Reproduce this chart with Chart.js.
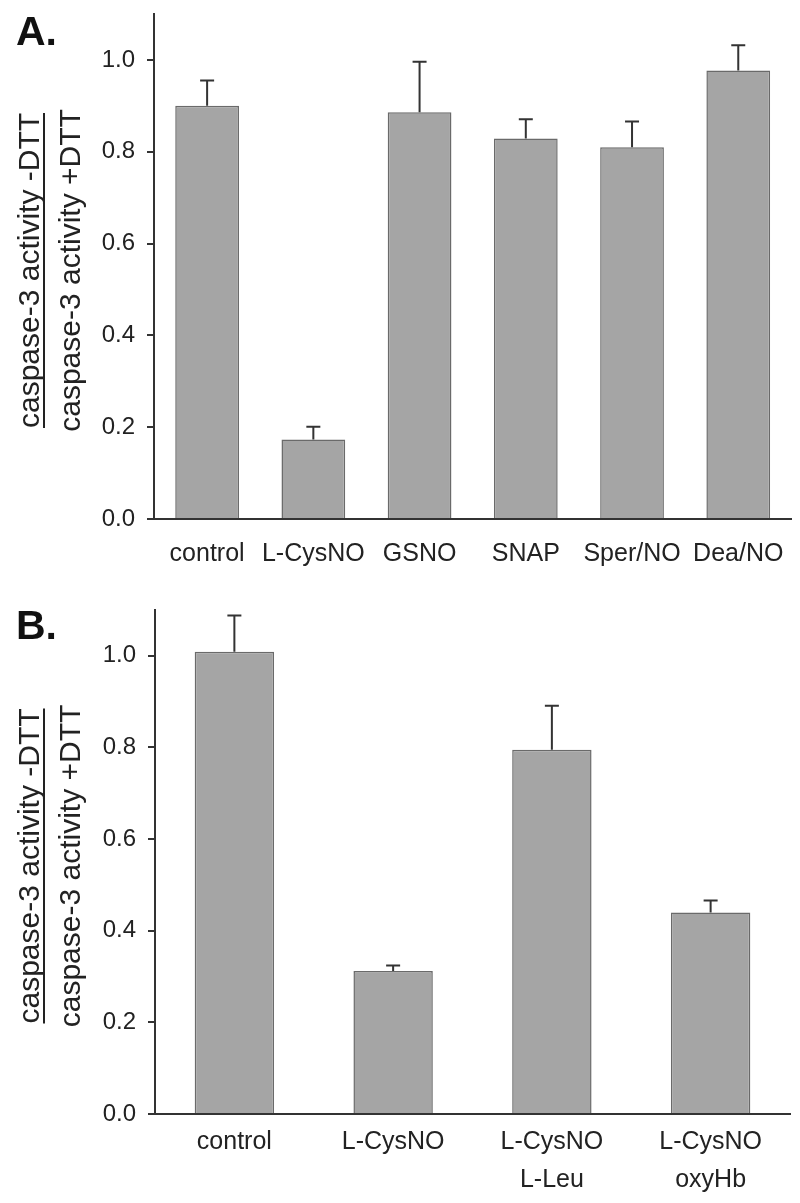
<!DOCTYPE html>
<html>
<head>
<meta charset="utf-8">
<script src="https://cdn.jsdelivr.net/npm/chart.js@4.4.1/dist/chart.umd.min.js"></script>
<style>
  html, body { margin: 0; padding: 0; background: #fff; }
  .panel { position: relative; width: 800px; }
  #wrapA { height: 600px; }
  #wrapB { height: 603px; }
</style>
</head>
<body>
<div class="panel" id="wrapA"><canvas id="chartA"></canvas></div>
<div class="panel" id="wrapB"><canvas id="chartB"></canvas></div>
<script>
// panel A
const labelsA = ["control", "L-CysNO", "GSNO", "SNAP", "Sper/NO", "Dea/NO"];
const valuesA = [0.900, 0.173, 0.886, 0.829, 0.810, 0.977];
const errorsA = [0.055, 0.028, 0.110, 0.042, 0.056, 0.055];

// panel B
const labelsB = ["control", "L-CysNO", ["L-CysNO", "L-Leu"], ["L-CysNO", "oxyHb"]];
const valuesB = [1.009, 0.312, 0.795, 0.440];
const errorsB = [0.079, 0.012, 0.096, 0.026];

const yTicks = [0, 0.2, 0.4, 0.6, 0.8, 1.0];
const yMax = 1.1;
const titleTop = "caspase-3 activity -DTT";
const titleBottom = "caspase-3 activity +DTT";

const FONT = "'Liberation Sans', Arial, Helvetica, sans-serif";
Chart.defaults.font.family = FONT;

// upward-only error bars with a small cap
const errorBars = {
  id: "errorBars",
  afterDatasetsDraw(chart, args, opts) {
    const ctx = chart.ctx, y = chart.scales.y;
    const vals = chart.data.datasets[0].data;
    ctx.save();
    ctx.strokeStyle = "#333";
    ctx.lineWidth = 2;
    chart.getDatasetMeta(0).data.forEach((bar, i) => {
      const top = y.getPixelForValue(vals[i] + opts.errors[i]);
      ctx.beginPath();
      ctx.moveTo(bar.x, bar.y);
      ctx.lineTo(bar.x, top);
      ctx.moveTo(bar.x - 7, top);
      ctx.lineTo(bar.x + 7, top);
      ctx.stroke();
    });
    ctx.restore();
  }
};

// panel letter + fraction-style y title
const decor = {
  id: "decor",
  afterDraw(chart, args, opts) {
    const ctx = chart.ctx, area = chart.chartArea;
    ctx.save();
    ctx.fillStyle = "#111";
    ctx.font = "bold 41px " + FONT;
    ctx.textAlign = "left";
    ctx.textBaseline = "alphabetic";
    ctx.fillText(opts.letter, 16, opts.letterY);

    const cy = (area.top + area.bottom) / 2 + 4;
    ctx.translate(0, cy);
    ctx.rotate(-Math.PI / 2);
    ctx.font = "30px " + FONT;
    ctx.fillStyle = "#222";
    ctx.textAlign = "center";
    ctx.fillText(titleTop, 0, 39);
    ctx.fillText(titleBottom, 0, 80);
    const w = ctx.measureText(titleTop).width;
    ctx.strokeStyle = "#222";
    ctx.lineWidth = 2;
    ctx.beginPath();
    ctx.moveTo(-w / 2, 44);
    ctx.lineTo(w / 2, 44);
    ctx.stroke();
    ctx.restore();
  }
};

function makeChart(id, labels, values, errors, o) {
  return new Chart(document.getElementById(id), {
    type: "bar",
    data: {
      labels: labels,
      datasets: [{
        data: values,
        backgroundColor: "#a5a5a5",
        borderColor: "#6a6a6a",
        borderWidth: 1.5,
        barPercentage: o.barPct,
        categoryPercentage: 1
      }]
    },
    options: {
      responsive: true,
      maintainAspectRatio: false,
      animation: false,
      layout: { padding: { top: o.top, right: o.right, left: 0, bottom: 0 } },
      scales: {
        x: {
          grid: { drawOnChartArea: false, drawTicks: false },
          border: { display: true, color: "#333", width: 2 },
          ticks: { color: "#222", font: { size: 25, lineHeight: 1.52 }, padding: o.labelPad, maxRotation: 0, autoSkip: false },
          afterFit(s) { s.height = o.xHeight; }
        },
        y: {
          min: 0,
          max: yMax,
          afterBuildTicks(s) { s.ticks = yTicks.map(v => ({ value: v })); },
          grid: { drawOnChartArea: false, drawTicks: true, tickLength: 7, color: "#333", lineWidth: 2 },
          border: { display: true, color: "#333", width: 2 },
          ticks: { color: "#222", font: { size: 24, lineHeight: 1 }, padding: 12, callback: v => Number(v).toFixed(1) },
          afterFit(s) {
            s.width = o.yWidth;
            s.paddingTop = 0;
            s.paddingBottom = 0;
          }
        }
      },
      plugins: {
        legend: { display: false },
        tooltip: { enabled: false },
        errorBars: { errors: errors },
        decor: { letter: o.letter, letterY: o.letterY }
      }
    },
    plugins: [errorBars, decor]
  });
}

makeChart("chartA", labelsA, valuesA, errorsA,
  { barPct: 0.6, top: 14, right: 7, xHeight: 81, yWidth: 154, labelPad: 16, letter: "A.", letterY: 45 });
makeChart("chartB", labelsB, valuesB, errorsB,
  { barPct: 0.5, top: 10, right: 10, xHeight: 89, yWidth: 155, labelPad: 9, letter: "B.", letterY: 39 });
</script>
</body>
</html>
